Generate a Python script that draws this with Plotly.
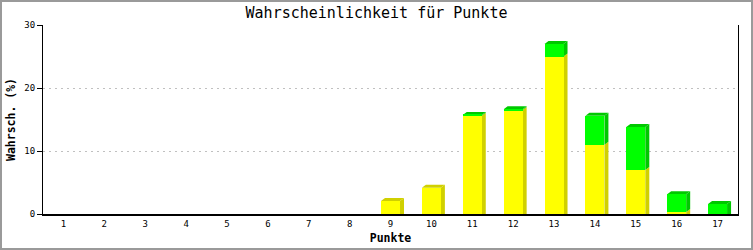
import plotly.graph_objects as go

punkte = list(range(1, 18))
tick_labels = [str(p) for p in punkte]
gelb = [0, 0, 0, 0, 0, 0, 0, 0, 2.05, 4.15, 15.6, 16.5, 25.0, 11.0, 7.0, 0.3, 0.0]
gruen = [0, 0, 0, 0, 0, 0, 0, 0, 0.0, 0.0, 0.12, 0.12, 2.0, 4.6, 6.8, 2.85, 1.6]

W, H = 753, 250
L, R, T, B = 43, 15, 25, 36
PW, PH = W - L - R, H - T - B
XMIN, XMAX = 0.5, 17.5
YMIN, YMAX = 0, 30
BW = 0.465
DX = 4 * (XMAX - XMIN) / PW
DY = 3 * (YMAX - YMIN) / PH

FRONT = {"y": "#FFFF00", "g": "#00FF00"}
DARK = {"y": "#D0D000", "g": "#00C800"}

fig = go.Figure()
fig.add_trace(go.Bar(x=punkte, y=gelb, width=BW, marker=dict(color=FRONT["y"], line=dict(width=0)), name="gelb"))
fig.add_trace(go.Bar(x=punkte, y=gruen, width=BW, marker=dict(color=FRONT["g"], line=dict(width=0)), name="grün"))

shapes = []
for p, a, b in zip(punkte, gelb, gruen):
    total = a + b
    if total <= 0:
        continue
    xl, xr = p - BW / 2, p + BW / 2
    segs = []
    if a > 0:
        segs.append((0, a, "y"))
    if b > 0:
        segs.append((a, total, "g"))
    for y0, y1, c in segs:
        if y0 > 0:
            path = f"M {xr} {y0} L {xr} {y1} L {xr+DX} {y1+DY} L {xr+DX} {y0+DY} Z"
        else:
            path = f"M {xr} 0 L {xr} {y1} L {xr+DX} {y1+DY} L {xr+DX} 0 Z"
        shapes.append(dict(type="path", path=path, xref="x", yref="y", fillcolor=DARK[c],
                           line=dict(width=0), layer="between"))
    top_c = segs[-1][2]
    path = f"M {xl} {total} L {xl+DX} {total+DY} L {xr+DX} {total+DY} L {xr} {total} Z"
    shapes.append(dict(type="path", path=path, xref="x", yref="y", fillcolor=DARK[top_c],
                       line=dict(width=0), layer="between"))

shapes.append(dict(type="rect", xref="paper", yref="paper",
                   x0=-L / PW, x1=1 + R / PW, y0=-B / PH, y1=1 + T / PH,
                   line=dict(color="#9a9a9a", width=4), fillcolor="rgba(0,0,0,0)", layer="above"))

LABEL_FONT = dict(family="DejaVu Sans Mono", size=11.5, color="black", weight="bold")
TICK_FONT = dict(family="DejaVu Sans Mono", size=9, color="black")

fig.update_layout(
    width=W, height=H,
    margin=dict(l=L, r=R, t=T, b=B, pad=0),
    paper_bgcolor="white", plot_bgcolor="white",
    barmode="stack", showlegend=False,
    shapes=shapes,
    title=dict(text="Wahrscheinlichkeit für Punkte", x=0.5, xref="container", xanchor="center",
               y=1 - 13 / H, yref="container", yanchor="middle",
               font=dict(family="DejaVu Sans Mono", size=15, color="black")),
    xaxis=dict(range=[XMIN, XMAX], tickmode="array", tickvals=punkte, ticktext=tick_labels,
               automargin=False,
               showgrid=False, zeroline=False, showline=True, linecolor="black", linewidth=2,
               ticks="", tickfont=TICK_FONT,
               title=dict(text="Punkte", standoff=6, font=LABEL_FONT)),
    yaxis=dict(range=[YMIN, YMAX], tickvals=[0, 10, 20, 30], automargin=False,
               showgrid=True, gridcolor="#c0c0c0",
               griddash="2px,4px", gridwidth=1, zeroline=False, showline=True, mirror=True,
               linecolor="black", linewidth=1, ticks="outside", ticklen=5, tickcolor="black",
               tickfont=TICK_FONT,
               title=dict(text="Wahrsch. (%)", standoff=6, font=LABEL_FONT)),
)

fig.write_html("out.html")
